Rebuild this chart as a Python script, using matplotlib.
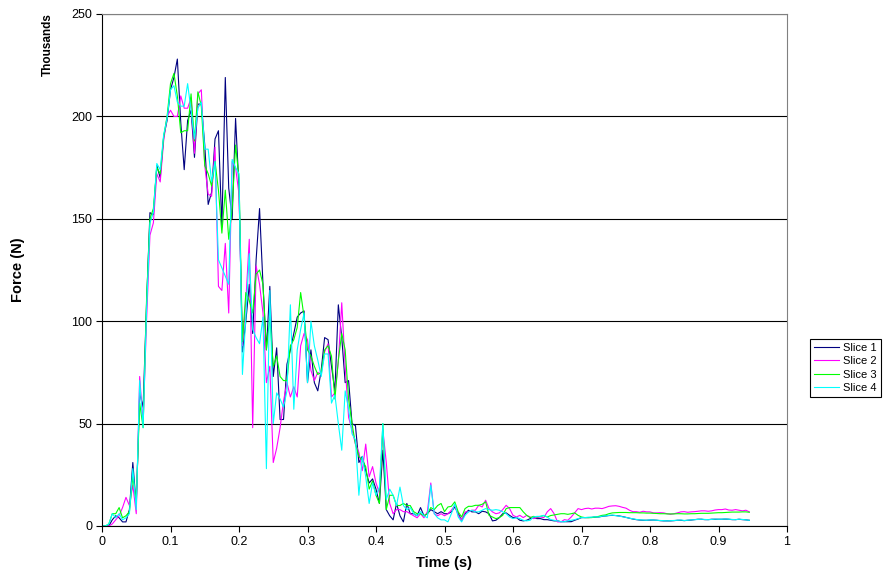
import matplotlib
matplotlib.use('Agg')
import numpy as np
import matplotlib.pyplot as plt

# force per slice, in thousands of N, sampled every 0.005 s
dt = 0.005

slice1 = [0, 0, 0, 3, 5, 4, 2, 2, 8, 31,
	10, 65, 58, 108, 153, 152, 176, 170, 190, 198,
	213, 219, 228, 197, 174, 198, 203, 180, 206, 206,
	186, 157, 163, 189, 193, 146, 219, 165, 150, 199,
	165, 85, 100, 118, 94, 130, 155, 118, 86, 117,
	73, 87, 52, 52, 79, 86, 94, 102, 104, 105,
	70, 86, 70, 66, 76, 92, 91, 78, 66, 108,
	92, 70, 71, 50, 49, 31, 34, 27, 21, 23,
	18, 11, 37, 8, 5, 3, 11, 5, 2, 11,
	6, 6, 5, 9, 5, 6, 8, 7, 6, 7,
	6, 6.0, 6.9, 9.3, 6.0, 2.8, 6.0, 7.7, 6.9, 6.9,
	6.0, 7.2, 6.9, 6.0, 2.5, 2.8, 4.1, 6.0, 6.4, 5.2,
	4.1, 4.1, 2.8, 2.5, 2.8, 3.6, 4.1, 3.6, 3.6, 3.1,
	3.1, 2.8, 2.5, 2.5, 2.1, 2.1, 2.1, 2.1, 2.8, 3.4,
	4.1, 4.1, 4.1, 4.2, 4.4, 4.4, 4.7, 4.9, 5.1, 5.2,
	5.1, 4.9, 4.6, 4.2, 3.8, 3.4, 3.1, 2.9, 2.8, 2.8,
	2.9, 2.9, 2.8, 2.6, 2.5, 2.5, 2.5, 2.6, 2.8, 2.8,
	2.6, 2.8, 2.9, 3.1, 3.3, 3.3, 3.1, 3.1, 3.3, 3.3,
	3.3, 3.3, 3.4, 3.3, 3.1, 3.1, 3.3, 3.1, 3.0, 2.8]

slice2 = [0, 0, 0, 1, 3, 5, 9, 14, 10, 20,
	6, 73, 50, 100, 142, 148, 172, 168, 188, 200,
	203, 200, 200, 210, 204, 204, 209, 182, 211, 213,
	176, 162, 161, 185, 117, 115, 138, 104, 178, 175,
	162, 88, 110, 140, 48, 127, 118, 104, 70, 78,
	31, 38, 48, 61, 70, 63, 68, 63, 88, 94,
	91, 76, 71, 75, 74, 85, 89, 63, 65, 80,
	109, 78, 53, 47, 40, 36, 27, 40, 24, 29,
	21, 16, 47, 31, 11, 6, 8, 8, 7, 7,
	6, 5, 4, 6, 4, 7, 21, 6, 5, 6,
	5, 6.0, 7.7, 10.1, 5.2, 2.8, 6.9, 6.9, 7.7, 7.7,
	10.1, 9.3, 12.6, 8.5, 6.9, 6.0, 6.4, 8.0, 10.1, 8.5,
	5.2, 4.4, 5.2, 4.1, 5.2, 4.4, 3.6, 4.1, 4.4, 4.1,
	6.9, 8.5, 6.0, 2.0, 2.0, 3.1, 2.8, 4.4, 6.4, 8.5,
	8.0, 8.5, 8.7, 8.3, 8.7, 8.7, 8.5, 9.0, 9.6, 9.8,
	9.9, 9.6, 9.1, 8.7, 7.7, 7.0, 7.0, 6.7, 7.2, 6.9,
	6.9, 6.4, 6.4, 6.5, 6.4, 6.0, 5.7, 6.0, 6.4, 6.9,
	7.0, 6.7, 6.9, 7.0, 7.2, 7.4, 7.4, 7.2, 7.4, 7.8,
	8.0, 8.0, 8.3, 7.8, 7.7, 8.0, 7.7, 7.4, 7.7, 6.9]

slice3 = [0, 0, 1, 6, 6, 9, 4, 5, 7, 24,
	12, 60, 48, 110, 150, 155, 175, 172, 190, 200,
	216, 221, 210, 192, 193, 193, 211, 188, 212, 205,
	176, 172, 166, 178, 164, 143, 164, 140, 155, 186,
	170, 90, 114, 110, 104, 123, 125, 118, 86, 102,
	78, 83, 73, 71, 71, 88, 91, 97, 114, 102,
	86, 83, 78, 74, 75, 86, 88, 83, 62, 81,
	94, 86, 62, 50, 40, 34, 32, 29, 18, 22,
	15, 11, 50, 8, 15, 15, 10, 10, 11, 10,
	10, 7, 6, 6, 5, 6, 9, 8, 10, 11,
	7, 9.3, 9.6, 11.8, 6.9, 4.4, 8.5, 9.6, 9.6, 10.1,
	10.1, 10.6, 11.8, 5.2, 4.4, 3.6, 4.1, 5.2, 8.5, 9.0,
	9.0, 9.0, 9.0, 6.9, 5.2, 4.1, 4.7, 4.4, 4.7, 5.1,
	4.4, 5.1, 5.4, 5.7, 6.0, 6.0, 5.7, 6.0, 6.4, 5.2,
	4.4, 4.1, 4.1, 4.1, 4.4, 4.7, 5.2, 5.4, 6.0, 6.4,
	6.5, 6.6, 6.6, 6.6, 6.5, 6.5, 6.5, 6.4, 6.4, 6.3,
	6.3, 6.2, 6.1, 6.0, 6.0, 5.9, 5.9, 5.9, 6.0, 6.0,
	5.9, 5.9, 6.0, 6.0, 6.1, 6.2, 6.2, 6.2, 6.3, 6.4,
	6.5, 6.5, 6.6, 6.7, 6.8, 6.8, 6.8, 6.9, 6.9, 6.7]

slice4 = [0, 0, 1, 6, 4, 6, 3, 4, 6, 28,
	8, 71, 48, 105, 148, 153, 177, 174, 191, 199,
	213, 215, 207, 205, 205, 216, 203, 189, 204, 207,
	184, 184, 168, 178, 130, 126, 122, 118, 179, 175,
	172, 74, 102, 133, 96, 92, 89, 102, 28, 115,
	50, 65, 62, 58, 66, 108, 57, 86, 96, 104,
	70, 100, 88, 81, 73, 84, 84, 60, 64, 50,
	37, 66, 57, 45, 42, 15, 34, 24, 11, 21,
	15, 19, 50, 13, 18, 15, 10, 19, 10, 8,
	9, 6, 5, 7, 5, 4, 20, 6, 4, 3,
	3, 2.0, 6.0, 10.9, 4.4, 2.0, 5.2, 6.9, 7.7, 6.9,
	6.9, 7.7, 8.5, 8.0, 7.7, 8.0, 7.7, 6.9, 6.0, 4.4,
	3.6, 4.1, 3.6, 2.8, 2.5, 2.8, 4.4, 4.7, 4.7, 5.2,
	4.4, 3.1, 2.8, 2.5, 2.1, 2.1, 2.5, 2.8, 3.1, 3.6,
	4.1, 4.1, 4.3, 4.3, 4.5, 4.4, 4.8, 4.9, 5.2, 5.3,
	5.1, 4.8, 4.5, 4.2, 3.8, 3.5, 3.2, 3.0, 2.9, 2.8,
	3.0, 2.9, 2.8, 2.7, 2.6, 2.5, 2.6, 2.7, 2.8, 2.9,
	2.7, 2.8, 3.0, 3.1, 3.2, 3.3, 3.2, 3.1, 3.2, 3.4,
	3.3, 3.3, 3.5, 3.3, 3.2, 3.1, 3.3, 3.2, 3.0, 2.8]

series = [slice1, slice2, slice3, slice4]
labels = ['Slice 1', 'Slice 2', 'Slice 3', 'Slice 4']
colors = ['#000080', '#FF00FF', '#00FF00', '#00FFFF']

plt.rcParams['font.family'] = ['Liberation Sans', 'DejaVu Sans']

fig = plt.figure(figsize=(8.83, 5.85), dpi=100)
ax = fig.add_axes([102/883, 59/585, 685/883, 512/585])

t = np.arange(len(slice1)) * dt
for y, lab, c in zip(series, labels, colors):
	ax.plot(t, y, '-', color=c, lw=0.8, label=lab)

ax.set_xlim(0, 1)
ax.set_ylim(0, 250)
ax.set_xticks(np.arange(0, 1.01, 0.1))
ax.set_xticklabels(['0', '0.1', '0.2', '0.3', '0.4', '0.5', '0.6', '0.7', '0.8', '0.9', '1'])
ax.set_yticks(np.arange(0, 251, 50))
ax.yaxis.grid(True, color='black', lw=0.8)
ax.set_axisbelow(True)
ax.tick_params(direction='out', length=4, width=0.8, labelsize=9, pad=3)
for s in ['top', 'right']:
	ax.spines[s].set_color('#808080')
ax.spines['left'].set_linewidth(0.8)
ax.spines['bottom'].set_linewidth(0.8)

ax.set_xlabel('Time (s)', fontsize=10.5, fontweight='bold', labelpad=6)
fig.text(18/883, 1 - 270/585, 'Force (N)', rotation=90, fontsize=10.5, fontweight='bold',
	ha='center', va='center')
fig.text(48/883, 1 - 45/585, 'Thousands', rotation=90, fontsize=8.5, fontweight='bold',
	ha='center', va='center')

leg = fig.legend(loc='center left', bbox_to_anchor=(810/883, 1 - 368/585), fontsize=8,
	frameon=True, fancybox=False, edgecolor='black', framealpha=1,
	handlelength=2.2, handletextpad=0.4, borderpad=0.4, labelspacing=0.3, borderaxespad=0)
leg.get_frame().set_linewidth(0.8)

fig.savefig('out.png', dpi=100)
